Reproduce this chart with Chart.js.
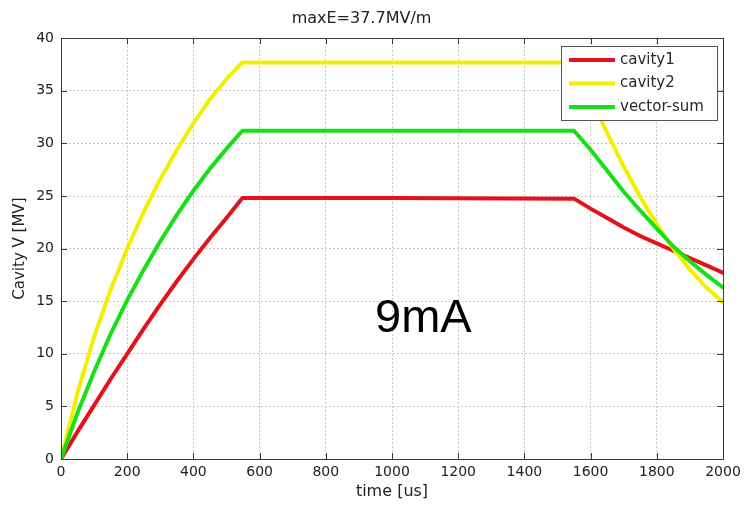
<!DOCTYPE html>
<html>
<head>
<meta charset="utf-8">
<script src="https://cdn.jsdelivr.net/npm/chart.js@4.4.1/dist/chart.umd.min.js"></script>
<style>
html, body { margin: 0; padding: 0; background: #fff; }
</style>
</head>
<body>
<canvas id="myChart" width="747" height="509"></canvas>
<script>
// values
var times = [0, 50, 100, 150, 200, 250, 300, 350, 400, 450, 500, 548, 1000, 1550, 1600, 1650, 1700, 1750, 1800, 1850, 1900, 1950, 2000];
var cavity1 = [0, 2.6, 5.1, 7.6, 10.0, 12.4, 14.7, 16.9, 19.0, 21.0, 22.9, 24.8, 24.8, 24.75, 23.8, 22.9, 22.0, 21.2, 20.5, 19.8, 19.1, 18.4, 17.7];
var cavity2 = [0, 6.3, 11.6, 16.1, 20.0, 23.5, 26.6, 29.4, 31.9, 34.2, 36.1, 37.7, 37.7, 37.7, 34.3, 31.0, 27.8, 24.9, 22.3, 20.0, 18.0, 16.3, 14.9];
var vectorSum = [0, 4.4, 8.3, 11.9, 15.1, 18.0, 20.7, 23.2, 25.5, 27.6, 29.5, 31.2, 31.2, 31.2, 29.4, 27.4, 25.4, 23.6, 21.9, 20.2, 18.8, 17.5, 16.3];
var seriesNames = ['cavity1', 'cavity2', 'vector-sum'];
var xRange = [0, 2000], xStep = 200;
var yRange = [0, 40], yStep = 5;

function pts(arr) {
	var out = [];
	for (var i = 0; i < times.length; i++) out.push({x: times[i], y: arr[i]});
	return out;
}

var colors = ['#e4121b', '#f2f000', '#18e018'];

// box with inward ticks, legend and the 9mA note
var extras = {
	id: 'extras',
	afterDraw: function(chart) {
		var ctx = chart.ctx, a = chart.chartArea;
		var xs = chart.scales.x, ys = chart.scales.y;
		ctx.save();
		ctx.strokeStyle = '#3a3a3a';
		ctx.lineWidth = 1;
		ctx.beginPath();
		xs.ticks.forEach(function(t) {
			var px = Math.round(xs.getPixelForValue(t.value)) + 0.5;
			ctx.moveTo(px, a.bottom); ctx.lineTo(px, a.bottom - 6);
			ctx.moveTo(px, a.top); ctx.lineTo(px, a.top + 6);
		});
		ys.ticks.forEach(function(t) {
			var py = Math.round(ys.getPixelForValue(t.value)) + 0.5;
			ctx.moveTo(a.left, py); ctx.lineTo(a.left + 6, py);
			ctx.moveTo(a.right, py); ctx.lineTo(a.right - 6, py);
		});
		ctx.stroke();
		ctx.strokeRect(Math.round(a.left) + 0.5, Math.round(a.top) + 0.5, Math.round(a.right - a.left), Math.round(a.bottom - a.top));

		// legend
		var bw = 156, bh = 74;
		var bx = Math.round(a.right) - 6 - bw, by = Math.round(a.top) + 8;
		ctx.fillStyle = '#fff';
		ctx.fillRect(bx, by, bw, bh);
		ctx.strokeStyle = '#555';
		ctx.strokeRect(bx + 0.5, by + 0.5, bw, bh);
		ctx.font = '15px "DejaVu Sans"';
		ctx.textBaseline = 'middle';
		for (var i = 0; i < seriesNames.length; i++) {
			var ry = by + 14 + i * 23.5;
			ctx.strokeStyle = colors[i];
			ctx.lineWidth = 4;
			ctx.beginPath();
			ctx.moveTo(bx + 8, ry); ctx.lineTo(bx + 54, ry);
			ctx.stroke();
			ctx.fillStyle = '#2a2a2a';
			ctx.fillText(seriesNames[i], bx + 59, ry);
		}

		ctx.fillStyle = '#000';
		ctx.font = '47px "Liberation Sans"';
		ctx.textBaseline = 'alphabetic';
		ctx.fillText('9mA', 375, 332);
		ctx.restore();
	}
};

Chart.defaults.font.family = '"DejaVu Sans"';
Chart.defaults.color = '#222';

var ctx = document.getElementById('myChart').getContext('2d');
var myChart = new Chart(ctx, {
	type: 'line',
	data: {
		datasets: [
			{label: seriesNames[0], data: pts(cavity1), borderColor: colors[0], order: 3},
			{label: seriesNames[1], data: pts(cavity2), borderColor: colors[1], order: 2},
			{label: seriesNames[2], data: pts(vectorSum), borderColor: colors[2], order: 1}
		]
	},
	options: {
		responsive: false,
		animation: false,
		layout: { padding: { right: 24 } },
		elements: {
			line: { borderWidth: 4, tension: 0, borderCapStyle: 'round', borderJoinStyle: 'round' },
			point: { radius: 0 }
		},
		plugins: {
			legend: { display: false },
			tooltip: { enabled: false },
			title: {
				display: true,
				text: 'maxE=37.7MV/m',
				font: { size: 16, weight: 'normal' },
				color: '#222',
				padding: { top: 9, bottom: 10 }
			}
		},
		scales: {
			x: {
				type: 'linear',
				min: xRange[0], max: xRange[1],
				afterFit: function(s) { s.height = 50; },
				ticks: { stepSize: xStep, font: { size: 14 }, padding: 5, maxRotation: 0, color: '#222',
					callback: function(v) { return String(v); } },
				grid: { color: '#c8c8c8', drawTicks: false },
				border: { display: false, dash: [2, 2] },
				title: { display: true, text: 'time [us]', font: { size: 16 }, padding: { top: 8, bottom: 8 }, color: '#222' }
			},
			y: {
				min: yRange[0], max: yRange[1],
				afterFit: function(s) { s.width = 61; },
				ticks: { stepSize: yStep, font: { size: 14 }, padding: 7, color: '#222',
					callback: function(v) { return String(v); } },
				grid: { color: '#c8c8c8', drawTicks: false },
				border: { display: false, dash: [2, 2] },
				title: { display: true, text: 'Cavity V [MV]', font: { size: 15 }, padding: { top: 11, bottom: 11 }, color: '#222' }
			}
		}
	},
	plugins: [extras]
});
</script>
</body>
</html>
